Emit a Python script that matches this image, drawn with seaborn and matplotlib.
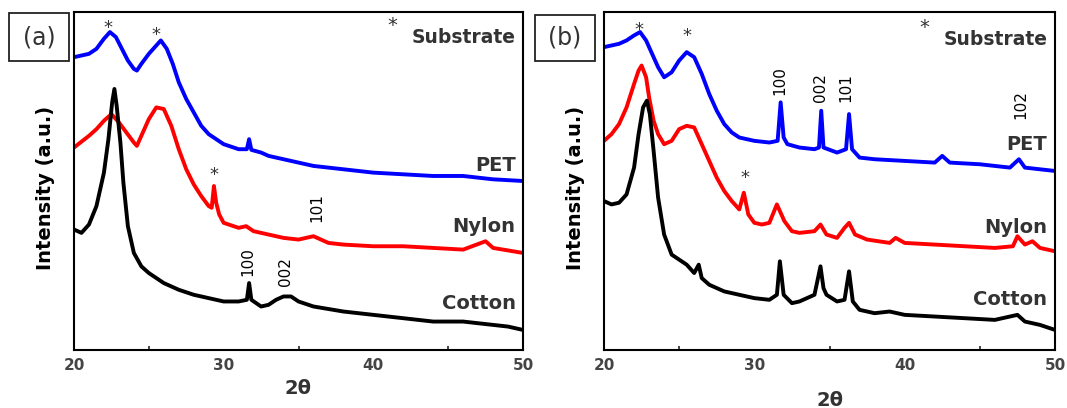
import numpy as np
import pandas as pd
import matplotlib
matplotlib.use("Agg")
import matplotlib.pyplot as plt
from matplotlib.patches import Rectangle
import seaborn as sns

# ---------------- data (arbitrary intensity units) ----------------
pet_a_x = [20, 20.5, 21, 21.5, 22, 22.4, 22.8, 23.2, 23.6, 24, 24.2, 24.5, 25, 25.5, 25.8, 26.2, 26.6, 27, 27.5, 28,
           28.5, 29, 29.5, 30, 31, 31.55, 31.7, 31.85, 32.5, 33, 34, 35, 36, 38, 40, 42, 44, 46, 48, 50]
pet_a_y = [875, 880, 885, 900, 930, 950, 935, 900, 865, 840, 835, 855, 885, 910, 925, 900, 855, 800, 750, 710,
           670, 645, 630, 615, 600, 600, 630, 598, 590, 580, 570, 560, 550, 540, 530, 525, 520, 520, 510, 505]

nylon_a_x = [20, 21, 21.5, 22, 22.5, 23, 23.5, 24, 24.2, 24.5, 25, 25.5, 26, 26.5, 27, 27.5, 28, 28.5, 29, 29.2,
             29.35, 29.5, 29.7, 30, 31, 31.5, 32, 33, 34, 35, 36, 36.5, 37, 38, 40, 42, 44, 46, 47.5, 48, 50]
nylon_a_y = [605, 640, 660, 685, 705, 680, 650, 620, 610, 640, 690, 725, 720, 670, 600, 540, 495, 460, 430, 425,
             490, 440, 405, 380, 365, 370, 355, 345, 335, 330, 340, 330, 320, 315, 310, 310, 305, 300, 325, 305, 290]

cotton_a_x = [20, 20.5, 21, 21.5, 22, 22.3, 22.55, 22.7, 22.85, 23.1, 23.3, 23.6, 24, 24.5, 25, 25.5, 26, 27, 28, 29,
              30, 31, 31.55, 31.7, 31.85, 32.5, 33, 33.5, 34, 34.5, 35, 36, 38, 40, 42, 44, 46, 48, 49, 50]
cotton_a_y = [360, 350, 375, 430, 530, 630, 740, 780, 730, 620, 500, 370, 290, 250, 230, 215, 200, 180, 165, 155,
              145, 145, 150, 200, 150, 130, 135, 150, 160, 160, 145, 130, 115, 105, 95, 85, 85, 75, 70, 60]

pet_b_x = [20, 20.5, 21, 21.5, 22, 22.4, 22.8, 23.2, 23.6, 24, 24.5, 25, 25.5, 26, 26.5, 27, 27.5, 28, 28.5, 29,
           29.5, 30, 31, 31.55, 31.75, 31.95, 32.2, 33, 34, 34.3, 34.45, 34.6, 35.5, 36.1, 36.3, 36.5, 37, 38, 40,
           42, 42.5, 43, 45, 47, 47.6, 48, 50]
pet_b_y = [905, 910, 915, 925, 940, 950, 925, 885, 845, 815, 830, 865, 890, 875, 825, 765, 715, 675, 650, 635,
           630, 625, 620, 625, 740, 635, 615, 605, 600, 605, 715, 605, 590, 600, 705, 600, 575, 570, 565,
           560, 580, 560, 555, 545, 570, 545, 535]

nylon_b_x = [20, 20.5, 21, 21.5, 22, 22.3, 22.5, 22.8, 23, 23.3, 23.6, 24, 24.5, 25, 25.5, 26, 26.5, 27, 27.5, 28,
             28.5, 29, 29.3, 29.6, 30, 30.5, 31, 31.5, 32, 32.5, 33, 34, 34.4, 34.8, 35.5, 36, 36.3, 36.7, 37.5, 39,
             39.4, 40, 42, 44, 46, 47.2, 47.5, 48, 48.5, 49, 50]
nylon_b_y = [625, 645, 675, 725, 795, 835, 850, 815, 755, 685, 645, 615, 625, 660, 670, 665, 615, 565, 515, 475,
             445, 420, 470, 405, 380, 375, 380, 435, 385, 355, 350, 355, 375, 345, 335, 365, 380, 345, 330, 320,
             335, 320, 315, 310, 305, 310, 340, 315, 325, 305, 295]

cotton_b_x = [20, 20.5, 21, 21.5, 22, 22.3, 22.6, 22.85, 23.05, 23.3, 23.6, 24, 24.5, 25, 25.5, 26, 26.3, 26.5, 27, 28,
              29, 30, 31, 31.5, 31.7, 31.95, 32.5, 33, 34, 34.4, 34.6, 34.8, 35.5, 36, 36.3, 36.55, 37, 38, 39, 40,
              42, 44, 46, 47.5, 48, 49, 50]
cotton_b_y = [445, 435, 440, 465, 545, 645, 725, 745, 705, 595, 455, 345, 285, 270, 255, 230, 255, 215, 195, 175,
              165, 155, 150, 165, 265, 165, 140, 145, 165, 250, 185, 165, 145, 150, 235, 145, 120, 110, 115, 105,
              100, 95, 90, 105, 85, 75, 60]

sample_names = ["PET", "Nylon", "Cotton"]
sample_colors = ["#0000FF", "#FF0000", "#000000"]
x_ticks = [20, 30, 40, 50]

# annotation labels
sub_stars_a = [(22.3, 962), (25.5, 942), (29.35, 522)]
sub_stars_b = [(22.35, 957), (25.5, 937), (29.4, 515)]
hkl_a = [("101", 36.2, 425), ("100", 31.6, 265), ("002", 34.1, 235)]
hkl_b = [("100", 31.7, 805), ("002", 34.4, 785), ("101", 36.1, 785), ("102", 47.7, 733)]
name_pos_a = [550, 370, 138]
name_pos_b = [615, 365, 150]


def make_df(xs, ys):
    frames = []
    for name, x, y in zip(sample_names, xs, ys):
        frames.append(pd.DataFrame({"theta": x, "intensity": y, "sample": name}))
    return pd.concat(frames, ignore_index=True)


df_a = make_df([pet_a_x, nylon_a_x, cotton_a_x], [pet_a_y, nylon_a_y, cotton_a_y])
df_b = make_df([pet_b_x, nylon_b_x, cotton_b_x], [pet_b_y, nylon_b_y, cotton_b_y])

sns.set_style("white")
plt.rcParams["font.family"] = ["DejaVu Sans"]

W, H = 1067, 408
fig = plt.figure(figsize=(W / 100, H / 100), dpi=100)

TXT = "#333333"
BOLD = dict(fontweight="bold", color=TXT)


def draw_panel(df, left_px, right_px, tag, box_px, stars, hkls, name_y, xlabel_off, sub_y):
    ax = fig.add_axes([left_px / W, (H - 350) / H, (right_px - left_px) / W, 338 / H])
    sns.lineplot(data=df, x="theta", y="intensity", hue="sample", hue_order=sample_names,
                 palette=sample_colors, ax=ax, linewidth=2.8, legend=False, sort=False,
                 estimator=None)
    ax.set_xlim(20, 50)
    ax.set_ylim(0, 1010)
    ax.set_yticks([])
    ax.set_xticks(x_ticks)
    ax.set_xticks([25, 35, 45], minor=True)
    ax.tick_params(axis="x", which="major", direction="in", length=5, width=1.3, pad=6,
                   labelsize=11, labelcolor="#444444")
    ax.tick_params(axis="x", which="minor", direction="in", length=3, width=1.2, bottom=True)
    for lab in ax.get_xticklabels():
        lab.set_fontweight("bold")
    for sp in ax.spines.values():
        sp.set_linewidth(1.5)
        sp.set_color("black")
    ax.set_ylabel("")
    ax.set_xlabel("2θ", fontsize=14, fontweight="bold", color=TXT)
    ax.xaxis.set_label_coords(0.5, xlabel_off)
    ax.text(-0.063, 0.48, "Intensity (a.u.)", rotation=90, ha="center", va="center",
            transform=ax.transAxes, fontsize=14, fontweight="bold", color="black")
    # substrate stars
    for sx, sy in stars:
        ax.text(sx, sy, "*", ha="center", va="center", fontsize=13, color=TXT)
    for lab, hx, hy in hkls:
        ax.text(hx, hy, lab, rotation=90, ha="center", va="center", fontsize=11, color="black")
    ax.text(41.3, sub_y - 5, "*", ha="center", va="center", fontsize=14, color=TXT)
    ax.text(49.5, sub_y - 42, "Substrate", ha="right", va="center", fontsize=13.5, **BOLD)
    for nm, ny in zip(sample_names, name_y):
        ax.text(49.5, ny, nm, ha="right", va="center", fontsize=14, **BOLD)
    # boxed panel tag
    bx0, by0, bx1, by1 = box_px
    fig.patches.append(Rectangle((bx0 / W, (H - by1) / H), (bx1 - bx0) / W, (by1 - by0) / H,
                                 transform=fig.transFigure, fill=False, lw=1.3, edgecolor="#222222"))
    fig.text((bx0 + bx1) / 2 / W, 1 - (by0 + by1) / 2 / H, tag, ha="center", va="center",
             fontsize=17, color=TXT)
    return ax


draw_panel(df_a, 74, 523, "(a)", (9, 13, 69, 61), sub_stars_a, hkl_a, name_pos_a, -0.085, 975)
draw_panel(df_b, 604, 1055, "(b)", (535, 15, 595, 61), sub_stars_b, hkl_b, name_pos_b, -0.12, 970)

fig.savefig("out.png", dpi=100)
